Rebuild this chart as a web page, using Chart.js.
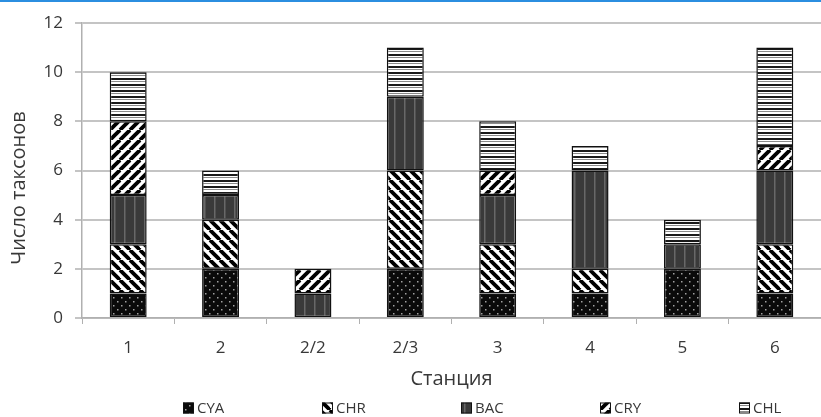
<!DOCTYPE html>
<html>
<head>
<meta charset="utf-8">
<script src="https://cdn.jsdelivr.net/npm/chart.js@4"></script>
<style>
  html, body { margin: 0; padding: 0; background: #fff; }
  #wrap { width: 821px; height: 417px; position: relative; }
</style>
</head>
<body>
<div id="wrap"><canvas id="grafico"></canvas></div>
<script>
// данные (число таксонов по станциям)
const stations = ['1', '2', '2/2', '2/3', '3', '4', '5', '6'];
const cya = [1, 2, 0, 2, 1, 1, 2, 1];
const chr = [2, 2, 0, 4, 2, 1, 0, 2];
const bac = [2, 1, 1, 3, 2, 4, 1, 3];
const cry = [3, 0, 1, 0, 1, 0, 0, 1];
const chl = [2, 1, 0, 2, 2, 1, 1, 4];
const groups = ['CYA', 'CHR', 'BAC', 'CRY', 'CHL'];
const yMax = 12;
const yStep = 2;

const FONT = "'Open Sans', 'DejaVu Sans', sans-serif";
const TXT = '#383838';

// штриховки
function tile(size, draw) {
    const c = document.createElement('canvas');
    c.width = size; c.height = size;
    const g = c.getContext('2d');
    draw(g, size);
    return document.createElement('canvas').getContext('2d').createPattern(c, 'repeat');
}

function diag(g, s, dir, w) {
    g.fillStyle = '#fff';
    g.fillRect(0, 0, s, s);
    g.strokeStyle = '#000';
    g.lineWidth = w;
    for (let k = -1; k <= 1; k++) {
        g.beginPath();
        if (dir > 0) {
            g.moveTo(k * s, s); g.lineTo(k * s + s, 0);
        } else {
            g.moveTo(k * s, 0); g.lineTo(k * s + s, s);
        }
        g.stroke();
    }
}

const patterns = {
    CYA: tile(8, (g, s) => {
        g.fillStyle = '#0a0a0a';
        g.fillRect(0, 0, s, s);
        g.fillStyle = '#a0a0a0';
        g.fillRect(1, 1, 1.5, 1.5);
        g.fillRect(5, 5, 1.5, 1.5);
    }),
    CHR: tile(10, (g, s) => diag(g, s, -1, 3.8)),
    BAC: tile(10, (g, s) => {
        g.fillStyle = '#3a3a3a';
        g.fillRect(0, 0, s, s);
        g.fillStyle = '#686868';
        g.fillRect(4, 0, 1.5, s);
    }),
    CRY: tile(10, (g, s) => diag(g, s, 1, 3.8)),
    CHL: tile(6, (g, s) => {
        g.fillStyle = '#fff';
        g.fillRect(0, 0, s, s);
        g.fillStyle = '#1a1a1a';
        g.fillRect(0, 0, s, 2);
        g.fillStyle = '#8a8a8a';
        g.fillRect(0, 3, s, 1);
    })
};

const series = [cya, chr, bac, cry, chl];

const datasets = groups.map((name, i) => ({
    label: name,
    data: series[i],
    backgroundColor: patterns[name],
    borderColor: '#111',
    borderWidth: 1.5,
    borderSkipped: false,
    categoryPercentage: 1,
    barPercentage: 0.4
}));

// синяя линия сверху, подпись оси Y и легенда
const extras = {
    id: 'extras',
    beforeDraw(chart) {
        const ctx = chart.ctx;
        ctx.save();
        ctx.fillStyle = '#2b8ee0';
        ctx.fillRect(0, 0, chart.width, 2);
        ctx.restore();
    },
    afterDraw(chart) {
        const ctx = chart.ctx;
        ctx.save();
        ctx.translate(19, 188);
        ctx.rotate(-Math.PI / 2);
        ctx.font = '20px ' + FONT;
        ctx.fillStyle = TXT;
        ctx.textAlign = 'center';
        ctx.textBaseline = 'middle';
        ctx.fillText('Число таксонов', 0, 0);
        ctx.restore();

        const startX = 183, gap = 139, y = 408;
        ctx.save();
        ctx.font = '15px ' + FONT;
        ctx.textBaseline = 'middle';
        groups.forEach((name, i) => {
            const x = startX + i * gap;
            ctx.fillStyle = patterns[name];
            ctx.fillRect(x, y - 5.5, 11, 11);
            ctx.strokeStyle = '#111';
            ctx.lineWidth = 1;
            ctx.strokeRect(x + 0.5, y - 5, 10, 10);
            ctx.fillStyle = TXT;
            ctx.fillText(name, x + 14, y + 1);
        });
        ctx.restore();
    }
};

new Chart(document.getElementById('grafico'), {
    type: 'bar',
    data: { labels: stations, datasets: datasets },
    plugins: [extras],
    options: {
        responsive: true,
        maintainAspectRatio: false,
        animation: false,
        layout: { padding: { top: 23, right: 0, bottom: 26, left: 0 } },
        plugins: {
            legend: { display: false },
            tooltip: { enabled: false }
        },
        scales: {
            x: {
                stacked: true,
                afterFit: s => { s.height = 73; },
                grid: {
                    offset: true,
                    drawOnChartArea: false,
                    color: '#b0b0b0',
                    tickLength: 6
                },
                border: { color: '#b0b0b0', width: 1.5 },
                ticks: {
                    color: TXT,
                    font: { family: FONT, size: 17 },
                    padding: 14
                },
                title: {
                    display: true,
                    text: 'Станция',
                    color: TXT,
                    font: { family: FONT, size: 20 },
                    padding: 0
                }
            },
            y: {
                stacked: true,
                min: 0,
                max: yMax,
                afterFit: s => { s.width = 82; },
                grid: {
                    color: '#c4c4c4',
                    lineWidth: 2,
                    tickLength: 7
                },
                border: { color: '#b0b0b0', width: 1.5 },
                ticks: {
                    stepSize: yStep,
                    color: TXT,
                    font: { family: FONT, size: 17 },
                    padding: 12
                }
            }
        }
    }
});
</script>
</body>
</html>
